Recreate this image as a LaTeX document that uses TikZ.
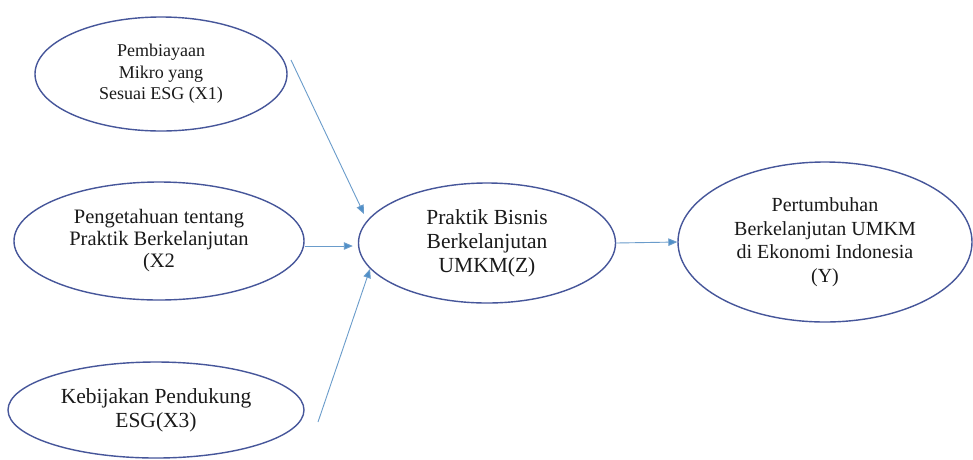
\documentclass[tikz,border=0pt]{standalone}
\usepackage{fontspec}
\setmainfont{Liberation Serif}
\usetikzlibrary{shapes.geometric,arrows.meta}
\definecolor{ellc}{HTML}{46569A}
\definecolor{arrc}{HTML}{6A9CCB}
\definecolor{tipc}{HTML}{4F8FC8}
\definecolor{txtc}{HTML}{1A1A1A}
\tikzset{
  ell/.style={draw=ellc, line width=1.4pt, ellipse, inner sep=0pt, align=center, text=txtc},
  conn/.style={draw=arrc, line width=0.9pt, -{Triangle[length=9pt,width=7.5pt,fill=tipc]}}
}
\begin{document}
\begin{tikzpicture}[x=1pt,y=-1pt]
\useasboundingbox (0,0) rectangle (973,459);
\fill[white] (0,0) rectangle (973,459);
\node[ell, minimum width=252pt, minimum height=114pt, font=\fontsize{18}{21.5}\selectfont] (x1) at (161,74) {Pembiayaan\\Mikro yang\\Sesuai ESG (X1)};
\node[ell, minimum width=290pt, minimum height=118pt, font=\fontsize{20.5}{22}\selectfont] (x2) at (159,241) {Pengetahuan tentang\\Praktik Berkelanjutan\\(X2};
\node[ell, minimum width=296pt, minimum height=96pt, font=\fontsize{21.5}{24}\selectfont] (x3) at (156,410) {Kebijakan Pendukung\\ESG(X3)};
\node[ell, minimum width=257pt, minimum height=120pt, font=\fontsize{21.5}{24}\selectfont] (z) at (487,243) {Praktik Bisnis\\Berkelanjutan\\UMKM(Z)};
\node[ell, minimum width=294pt, minimum height=160pt, font=\fontsize{20}{23.5}\selectfont] (y) at (825,242) {Pertumbuhan\\Berkelanjutan UMKM\\di Ekonomi Indonesia\\(Y)};
\coordinate (s1) at (291,60);
\coordinate (t1) at (364,214);
\coordinate (s3) at (318,422);
\coordinate (t3) at (370,269);
\draw[conn] (s1) -- (t1);
\draw[conn, shorten >=5pt] (x2.east |- 0,246) -- (z.west |- 0,246);
\draw[conn] (s3) -- (t3);
\draw[conn] (z.east) -- (y.west);
\end{tikzpicture}
\end{document}
